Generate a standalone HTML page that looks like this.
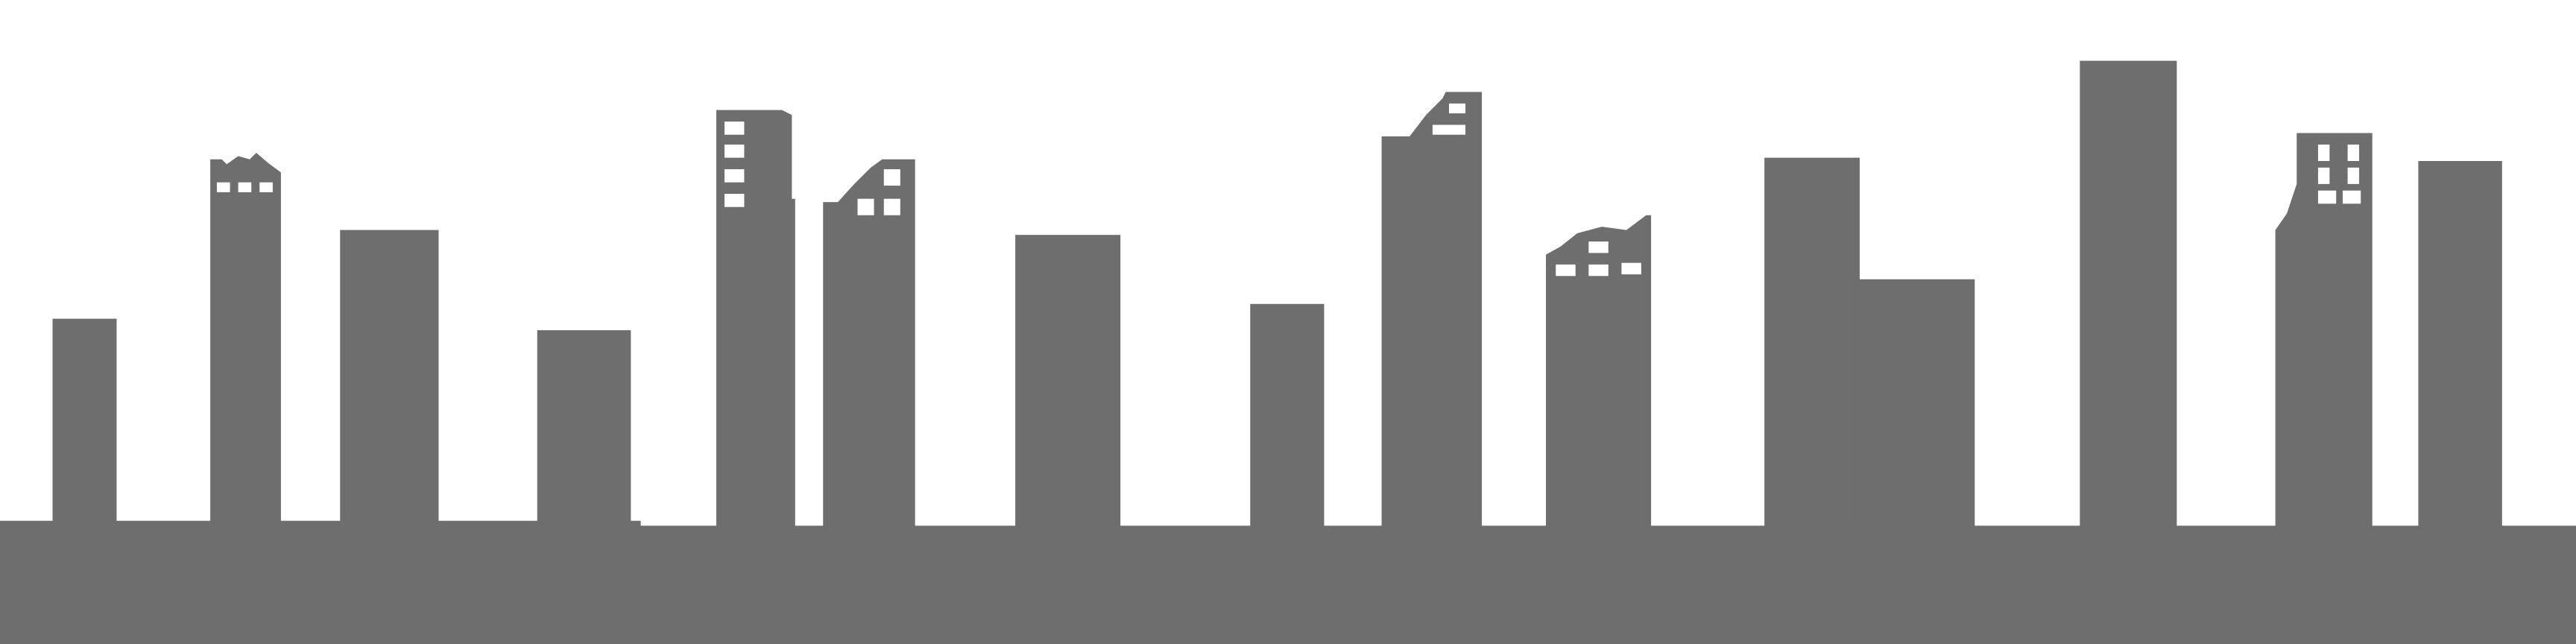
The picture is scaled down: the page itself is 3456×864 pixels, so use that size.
<!DOCTYPE html>
<html><head><meta charset="utf-8"><style>
html,body{margin:0;padding:0;background:#fff;}
svg{display:block;}
</style></head><body>
<svg width="3456" height="864" viewBox="0 0 1568 392" preserveAspectRatio="none" xmlns="http://www.w3.org/2000/svg">
<g fill="#6e6e6e">
<rect x="0" y="320" width="1568" height="72"/>
<rect x="0" y="317" width="390" height="5"/>
<rect x="32" y="194" width="39" height="130"/>
<polygon points="128,330 128,97 135,97 138,100 145,95 152,97 156,93 163,99 171,105 171,330"/>
<rect x="207" y="140" width="60" height="182"/>
<rect x="327" y="201" width="57" height="121"/>
<polygon points="436,330 436,67 476,67 482,70 482,121 484,121 484,330"/>
<polygon points="501,330 501,123 510,123 520,112 530,102 537,97 557,97 557,330"/>
<rect x="618" y="143" width="64" height="187"/>
<rect x="761" y="185" width="45" height="145"/>
<polygon points="841,330 841,83 858,83 868,70 878,60 880,56 902,56 902,330"/>
<polygon points="941,330 941,155 950,150 960,142 975,138 990,140 1002,131 1005,131 1005,330"/>
<rect x="1074" y="96" width="58" height="234"/>
<rect x="1132" y="170" width="70" height="160"/>
<rect x="1266" y="37" width="59" height="293"/>
<polygon points="1385,330 1385,140 1392,130 1398,112 1398,81 1444,81 1444,330"/>
<rect x="1472" y="98" width="51" height="232"/>
</g>
<g fill="#ffffff">
<rect x="132" y="111" width="8" height="6"/><rect x="145" y="111" width="8" height="6"/><rect x="158" y="111" width="8" height="6"/>
<rect x="441" y="74" width="12" height="8"/><rect x="441" y="88" width="12" height="8"/><rect x="441" y="103" width="12" height="8"/><rect x="441" y="118" width="12" height="8"/>
<rect x="538" y="103" width="10" height="10"/><rect x="522" y="121" width="10" height="10"/><rect x="538" y="121" width="10" height="10"/>
<rect x="882" y="63" width="10" height="6"/><rect x="872" y="76" width="20" height="6"/>
<rect x="967" y="147" width="12" height="7"/><rect x="947" y="161" width="12" height="7"/><rect x="967" y="161" width="12" height="7"/><rect x="987" y="160" width="12" height="7"/>
<rect x="1411" y="88" width="7" height="10"/><rect x="1429" y="88" width="7" height="10"/><rect x="1411" y="102" width="7" height="10"/><rect x="1429" y="102" width="7" height="10"/><rect x="1411" y="116" width="11" height="8"/><rect x="1426" y="116" width="11" height="8"/>
</g>
</svg>
</body></html>
